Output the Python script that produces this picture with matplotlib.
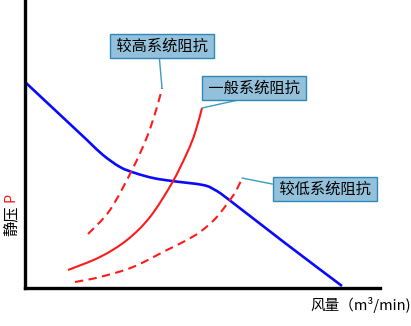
import matplotlib.pyplot as plt
from matplotlib.path import Path
from matplotlib.patches import PathPatch

plt.rcParams['font.family'] = ['Noto Sans CJK SC', 'DejaVu Sans']

# fan curve (blue): flow vs static pressure
fan_q = [0, 31, 62, 78, 95, 110, 128, 147, 178, 190, 203, 260, 317]
fan_p = [206, 177, 148, 133, 121, 115, 110, 107, 103, 98, 89, 45, 2]

# system resistance curves
mid_q = [43, 75, 102, 125, 147, 162, 170, 177]
mid_p = [18, 31, 48, 71, 105, 135, 155, 180]

high_q = [63, 85, 107, 122, 132, 137]
high_p = [54, 78, 118, 151, 181, 200]

low_q = [50, 75, 108, 142, 160, 175, 190, 202, 211, 217]
low_p = [6, 11, 21, 38, 47, 56, 69, 84, 97, 110]


def smooth_path(xs, ys):
    # Catmull-Rom through the points, written as cubic Bezier segments
    pts = list(zip(xs, ys))
    verts = [pts[0]]
    codes = [Path.MOVETO]
    for i in range(len(pts) - 1):
        p0 = pts[i - 1] if i > 0 else pts[i]
        p1, p2 = pts[i], pts[i + 1]
        p3 = pts[i + 2] if i + 2 < len(pts) else p2
        c1 = (p1[0] + (p2[0] - p0[0]) / 6, p1[1] + (p2[1] - p0[1]) / 6)
        c2 = (p2[0] - (p3[0] - p1[0]) / 6, p2[1] - (p3[1] - p1[1]) / 6)
        verts += [c1, c2, p2]
        codes += [Path.CURVE4] * 3
    return Path(verts, codes)


def draw_curve(ax, xs, ys, **kw):
    ax.add_patch(PathPatch(smooth_path(xs, ys), fill=False,
                           capstyle='butt', joinstyle='round', **kw))


W, H = 411, 326
fig = plt.figure(figsize=(W / 100, H / 100), dpi=100)
ax = fig.add_axes([25 / W, 38 / H, 355 / W, 288 / H])
ax.set_xlim(0, 355)
ax.set_ylim(0, 288)

draw_curve(ax, fan_q, fan_p, ec='#0a0aff', lw=1.9)
draw_curve(ax, mid_q, mid_p, ec='#ff1a1a', lw=1.5)
draw_curve(ax, high_q, high_p, ec='#ff1a1a', lw=1.5, ls=(0, (4, 2.6)))
draw_curve(ax, low_q, low_p, ec='#ff1a1a', lw=1.5, ls=(0, (4, 2.6)))

box = dict(boxstyle='square,pad=0.2', fc='#93c1dc', ec='#2f88b5', lw=1)
leader = dict(arrowstyle='-', color='#3a9cc4', lw=1, shrinkA=0, shrinkB=0)

ax.annotate(' 较高系统阻抗 ', xy=(high_q[-1], high_p[-1]), xytext=(137, 242),
            ha='center', va='center', fontsize=11, bbox=box,
            arrowprops=dict(leader, relpos=(0.47, 0)))
ax.annotate(' 一般系统阻抗 ', xy=(mid_q[-1], mid_p[-1]), xytext=(229, 200),
            ha='center', va='center', fontsize=11, bbox=box,
            arrowprops=dict(leader, relpos=(0.5, 0)))
ax.annotate(' 较低系统阻抗 ', xy=(low_q[-1], low_p[-1]), xytext=(300, 99),
            ha='center', va='center', fontsize=11, bbox=box,
            arrowprops=dict(leader, relpos=(0, 0.75)))

for side in ('top', 'right'):
    ax.spines[side].set_visible(False)
for side in ('left', 'bottom'):
    ax.spines[side].set_linewidth(2.4)
    ax.spines[side].set_color('black')
ax.set_xticks([])
ax.set_yticks([])
ax.patch.set_alpha(0)

fig.text(310 / W, 1 - 305 / H, '风量（m³/min)', fontsize=10.5,
         ha='left', va='center')
fig.text(11 / W, 1 - 221 / H, '静压', fontsize=11, rotation=90,
         ha='center', va='center')
fig.text(11 / W, 1 - 197 / H, 'P', fontsize=10.5, rotation=90,
         color='#ff1a1a', ha='center', va='center')

fig.savefig('out.png', dpi=100)
